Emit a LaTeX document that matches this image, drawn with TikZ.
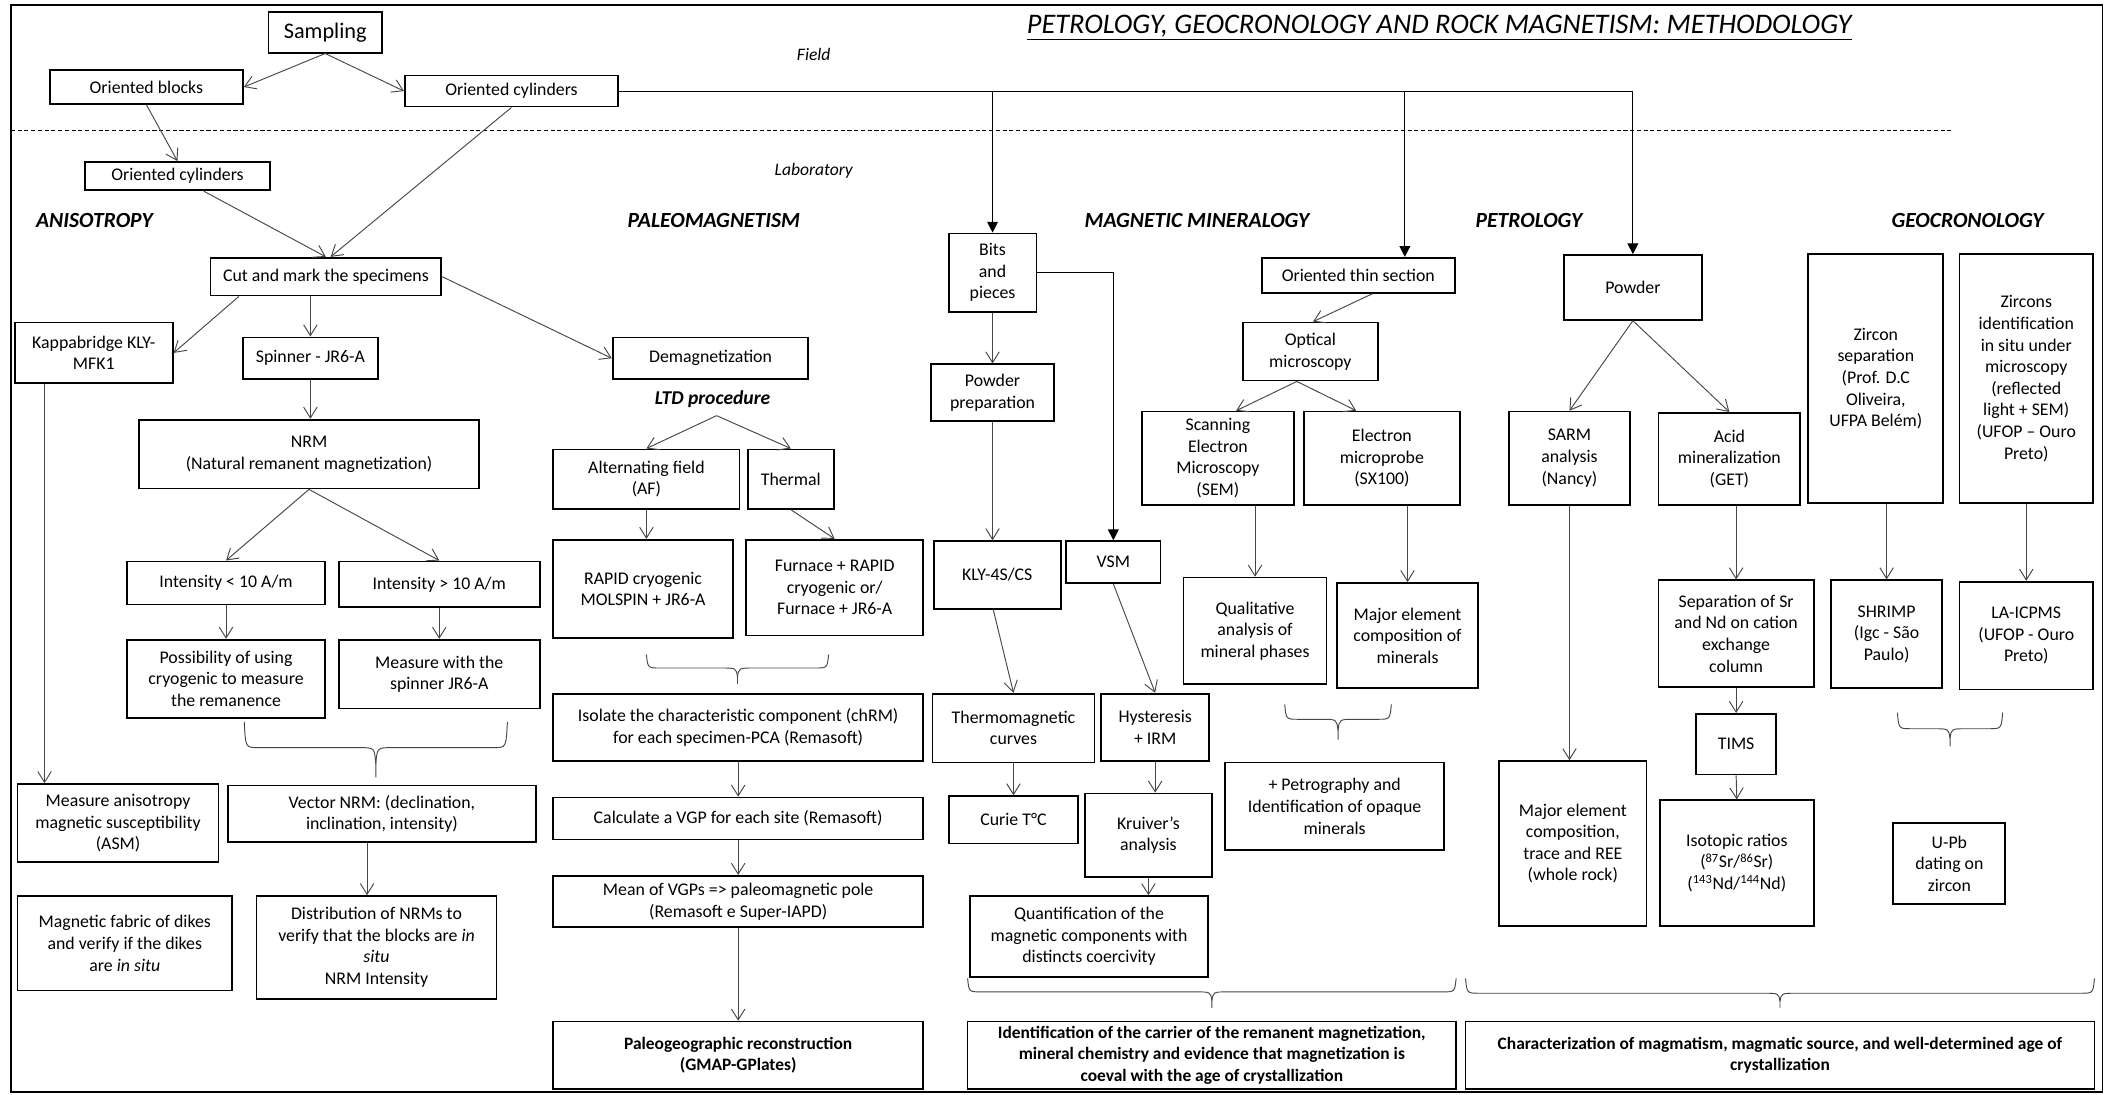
\documentclass[tikz,border=0pt]{standalone}
\usepackage{fontspec}
\setmainfont{Carlito}
\usetikzlibrary{arrows.meta,calc}

\newcommand{\fsz}{\fontsize{13.2}{16}\selectfont}
\newcommand{\bsz}{\fontsize{12.9}{16}\selectfont\bfseries}
\newcommand{\mybox}[7][]{\node[box,#1,minimum width={(#5-#3)*1pt},minimum height={(#6-#4)*1pt}] (#2) at ({(#3+#5)/2},{(#4+#6)/2}) {#7};}
\newcommand{\mybrace}[5]{%
  \pgfmathsetmacro{\brm}{(#1+#2)/2}%
  \pgfmathsetmacro{\brq}{#4+0.55*(#5-#4)}%
  \draw[conn] (#1,#3) .. controls (#1+1,#4) .. (#1+10,#4) -- (\brm-12,#4) .. controls (\brm-1,#4) .. (\brm,\brq) -- (\brm,#5);
  \draw[conn] (#2,#3) .. controls (#2-1,#4) .. (#2-10,#4) -- (\brm+12,#4) .. controls (\brm+1,#4) .. (\brm,\brq);
}

\begin{document}
\begin{tikzpicture}[x=1pt,y=-1pt,
  box/.style={draw=black,line width=1.3pt,fill=white,align=center,inner sep=1pt,font=\fsz},
  conn/.style={draw=black!72,line width=0.7pt},
  arr/.style={conn,-{Straight Barb[length=8pt,width=10pt,line width=0.7pt]}},
  farr/.style={draw=black,line width=0.8pt,-{Triangle[length=8pt,width=8pt]}},
  sect/.style={font=\fontsize{16}{18}\selectfont\bfseries\itshape,inner sep=0pt,anchor=base},
  lbl/.style={font=\fontsize{13}{15}\selectfont\itshape,inner sep=0pt,anchor=base}]
\useasboundingbox (0,0) rectangle (1568,811);
\fill[white] (0,0) rectangle (1568,811);
\draw[line width=1.4pt] (8,4) rectangle (1558,809);
\draw[line width=0.6pt,dash pattern=on 3pt off 2pt] (8,97) -- (1447,97);

% labels
\node[font=\fontsize{21}{24}\selectfont\itshape,anchor=base,inner sep=0pt] (title) at (1066.5,24.7) {\underline{PETROLOGY, GEOCRONOLOGY AND ROCK MAGNETISM: METHODOLOGY}};
\node[lbl] (field) at (603,45) {Field};
\node[lbl] (lab) at (603,130) {Laboratory};
\node[sect] (lanis) at (70,168.5) {ANISOTROPY};
\node[sect] (lpal) at (529,168.5) {PALEOMAGNETISM};
\node[sect] (lmag) at (887,168.5) {MAGNETIC MINERALOGY};
\node[sect] (lpet) at (1133,168.5) {PETROLOGY};
\node[sect] (lgeo) at (1458,168.5) {GEOCRONOLOGY};
\node[font=\fontsize{14.5}{16}\selectfont\bfseries\itshape,anchor=base,inner sep=0pt] (ltd) at (528,299.5) {LTD procedure};

% field / sampling
\mybox{samp}{199}{9}{283}{39}{\fontsize{16.5}{18}\selectfont Sampling}
\mybox{blocks}{37}{52}{180}{77}{Oriented blocks}
\mybox{ocyl}{300}{56}{458}{79}{Oriented cylinders}
\mybox{lcyl}{63}{120}{200}{141}{Oriented cylinders}
\mybox{cut}{156}{191}{327}{219}{Cut and mark the specimens}

% anisotropy / paleomagnetism left
\mybox{kappa}{11}{239}{128}{284}{Kappabridge KLY-\\MFK1}
\mybox{spin}{180}{250}{280}{281}{Spinner - JR6-A}
\mybox{demag}{454}{250}{599}{281}{Demagnetization}
\mybox{nrm}{103}{311}{355}{362}{NRM\\(Natural remanent magnetization)}
\mybox{intl}{94}{416}{241}{448}{Intensity < 10 A/m}
\mybox{intg}{251}{416}{400}{450}{Intensity > 10 A/m}
\mybox{poss}{94}{474}{241}{532}{Possibility of using\\cryogenic to measure\\the remanence}
\mybox{meas}{251}{474}{400}{525}{Measure with the\\spinner JR6-A}
\mybox{asm}{13}{581}{162}{639}{Measure anisotropy\\magnetic susceptibility\\(ASM)}
\mybox{vec}{169}{582}{397}{624}{Vector NRM: (declination,\\inclination, intensity)}
\mybox{fab}{13}{664}{172}{734}{Magnetic fabric of dikes\\and verify if the dikes\\are \textit{in situ}}
\mybox{dist}{190}{664}{368}{740}{Distribution of NRMs to\\verify that the blocks are \textit{in}\\\textit{situ}\\NRM Intensity}

% paleomagnetism
\mybox{af}{410}{333}{548}{377}{Alternating field\\(AF)}
\mybox{therm}{554}{333}{618}{377}{Thermal}
\mybox{rapid}{410}{400}{543}{473}{RAPID cryogenic\\MOLSPIN + JR6-A}
\mybox{furn}{553}{400}{684}{471}{Furnace + RAPID\\cryogenic or/\\Furnace + JR6-A}
\mybox{iso}{410}{514}{684}{564}{Isolate the characteristic component (chRM)\\for each specimen-PCA (Remasoft)}
\mybox{calc}{410}{591}{684}{622}{Calculate a VGP for each site (Remasoft)}
\mybox{mean}{410}{649}{684}{687}{Mean of VGPs => paleomagnetic pole\\(Remasoft e Super-IAPD)}
\mybox[font=\bsz]{paleo}{410}{757}{684}{807}{Paleogeographic reconstruction\\(GMAP-GPlates)}

% magnetic mineralogy
\mybox{bits}{703}{173}{768}{231}{Bits\\and\\pieces}
\mybox{pprep}{690}{270}{781}{312}{Powder\\preparation}
\mybox{kly}{692}{401}{786}{451}{KLY-4S/CS}
\mybox{vsm}{790}{401}{860}{432}{VSM}
\mybox{thermo}{691}{514}{811}{565}{Thermomagnetic\\curves}
\mybox{hyst}{816}{514}{896}{564}{Hysteresis\\+ IRM}
\mybox{curie}{703}{590}{799}{625}{Curie T°C}
\mybox{kru}{804}{588}{898}{650}{Kruiver’s\\analysis}
\mybox{quant}{719}{664}{895}{724}{Quantification of the\\magnetic components with\\distincts coercivity}
\mybox{thin}{935}{191}{1078}{217}{Oriented thin section}
\mybox{opt}{921}{239}{1021}{282}{Optical\\microscopy}
\mybox{sem}{846}{305}{959}{374}{Scanning\\Electron\\Microscopy\\(SEM)}
\mybox{elec}{966}{305}{1082}{374}{Electron\\microprobe\\(SX100)}
\mybox{qual}{877}{428}{983}{507}{Qualitative\\analysis of\\mineral phases}
\mybox{majm}{991}{432}{1095}{510}{Major element\\composition of\\minerals}
\mybox{petro}{908}{565}{1070}{630}{+ Petrography and\\Identification of opaque\\minerals}
\mybox[font=\bsz]{ident}{717}{757}{1079}{807}{Identification of the carrier of the remanent magnetization,\\mineral chemistry and evidence that magnetization is\\coeval with the age of crystallization}

% petrology
\mybox{powd}{1159}{189}{1261}{237}{Powder}
\mybox{sarm}{1118}{305}{1208}{374}{SARM\\analysis\\(Nancy)}
\mybox{acid}{1229}{306}{1334}{374}{Acid\\mineralization\\(GET)}
\mybox{sep}{1229}{430}{1344}{509}{Separation of Sr\\and Nd on cation\\exchange\\column}
\mybox{tims}{1257}{529}{1316}{574}{TIMS}
\mybox{isor}{1230}{593}{1344}{686}{Isotopic ratios\\(\textsuperscript{87}Sr/\textsuperscript{86}Sr)\\(\textsuperscript{143}Nd/\textsuperscript{144}Nd)}
\mybox{majr}{1111}{564}{1220}{686}{Major element\\composition,\\trace and REE\\(whole rock)}

% geocronology
\mybox{zsep}{1340}{188}{1440}{373}{Zircon\\separation\\(Prof. D.C\\Oliveira,\\UFPA Belém)}
\mybox{zid}{1452}{188}{1551}{373}{Zircons\\identification\\in situ under\\microscopy\\(reflected\\light + SEM)\\(UFOP – Ouro\\Preto)}
\mybox{shrimp}{1357}{430}{1439}{510}{SHRIMP\\(Igc - São\\Paulo)}
\mybox{la}{1452}{431}{1551}{511}{LA-ICPMS\\(UFOP - Ouro\\Preto)}
\mybox{upb}{1403}{610}{1486}{670}{U-Pb\\dating on\\zircon}
\mybox[font=\bsz]{charz}{1086}{757}{1552}{807}{Characterization of magmatism, magmatic source, and well-determined age of\\crystallization}

% connectors: field
\draw[arr] (samp.south) -- (blocks.east);
\draw[arr] (samp.south) -- (ocyl.west);
\draw[arr] (blocks.south) -- (lcyl.north);
\draw[arr] ([xshift=19.5pt]lcyl.south) -- (cut.north);
\draw[arr] (ocyl.south) -- ([xshift=3.5pt]cut.north);
\coordinate (thinin) at ([xshift=34.5pt]thin.north);
\draw[farr] (ocyl.east) -| (powd.north);
\draw[farr] (bits.north |- ocyl.east) -- (bits.north);
\draw[farr] (thinin |- ocyl.east) -- (thinin);

% anisotropy / NRM
\draw[arr] ([xshift=-64.5pt]cut.south) -- (kappa.east);
\draw[arr] (spin.north |- cut.south) -- (spin.north);
\draw[arr] (cut.east) -- (demag.west);
\draw[arr] (spin.south) -- (spin.south |- nrm.north);
\draw[arr] (nrm.south) -- (intl.north);
\draw[arr] (nrm.south) -- (intg.north);
\draw[arr] (intl.south) -- (poss.north);
\draw[arr] (intg.south) -- (meas.north);
\coordinate (kapout) at ([xshift=-36.5pt]kappa.south);
\draw[arr] (kapout) -- (kapout |- asm.north);
\coordinate (vecout) at ([xshift=-11pt]vec.south);
\draw[arr] (vecout) -- (vecout |- dist.north);

% paleomagnetism
\coordinate (ltdsplit) at (531,308);
\draw[arr] (ltdsplit) -- (af.north);
\draw[arr] (ltdsplit) -- (therm.north);
\draw[arr] (af.south) -- (af.south |- rapid.north);
\draw[arr] (therm.south) -- (furn.north);
\draw[arr] (iso.south) -- (calc.north);
\draw[arr] (calc.south) -- (mean.north);
\draw[arr] (mean.south) -- (paleo.north);

% magnetic mineralogy
\draw[arr] (bits.south) -- (pprep.north);
\draw[arr] (pprep.south) -- (pprep.south |- kly.north);
\draw[farr] (bits.east) -| (vsm.north);
\draw[arr] ([xshift=-3pt]kly.south) -- (thermo.north);
\draw[arr] (vsm.south) -- (hyst.north);
\draw[arr] (thermo.south) -- (curie.north);
\draw[arr] (hyst.south) -- (hyst.south |- kru.north);
\draw[arr] (kru.south) -- (kru.south |- quant.north);
\draw[arr] ([xshift=10.5pt]thin.south) -- ([xshift=2pt]opt.north);
\draw[arr] ([xshift=-10pt]opt.south) -- ([xshift=13.5pt]sem.north);
\draw[arr] ([xshift=-10pt]opt.south) -- ([xshift=-19pt]elec.north);
\draw[arr] (qual.north |- sem.south) -- (qual.north);
\draw[arr] (majm.north |- elec.south) -- (majm.north);

% petrology
\draw[arr] (powd.south) -- (sarm.north);
\draw[arr] (powd.south) -- (acid.north);
\draw[arr] (sarm.south) -- (sarm.south |- majr.north);
\draw[arr] (sep.north |- acid.south) -- (sep.north);
\draw[arr] (sep.south) -- (tims.north);
\draw[arr] (tims.south) -- (isor.north);

% geocronology
\draw[arr] (shrimp.north |- zsep.south) -- (shrimp.north);
\draw[arr] (zid.south) -- (la.north);

% braces
\mybrace{181}{376}{535}{554}{576}
\mybrace{479}{614}{485}{495}{507}
\mybrace{952}{1031}{522}{533}{548}
\mybrace{1406}{1484}{528}{540}{553}
\mybrace{717}{1079}{725}{735}{747}
\mybrace{1086}{1552}{725}{736}{747}
\end{tikzpicture}
\end{document}
